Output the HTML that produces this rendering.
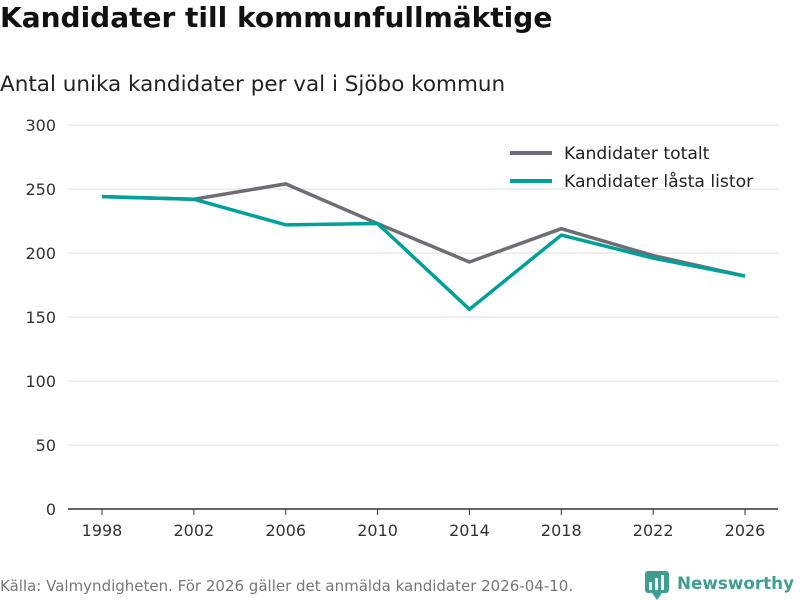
<!DOCTYPE html>
<html><head><meta charset="utf-8">
<style>
body{margin:0;width:800px;height:600px;background:#fff;font-family:"DejaVu Sans","Liberation Sans",sans-serif;overflow:hidden}
#title{position:absolute;left:0;top:1px;font-size:28px;font-weight:bold;color:#111}
#subtitle{position:absolute;left:0;top:72px;font-size:21.5px;color:#222}
#source{position:absolute;left:0;top:577px;font-size:15px;color:#777}
svg{position:absolute;left:0;top:0}
</style></head><body>
<div id="title">Kandidater till kommunfullmäktige</div>
<div id="subtitle">Antal unika kandidater per val i Sjöbo kommun</div>
<div id="source">Källa: Valmyndigheten. För 2026 gäller det anmälda kandidater 2026-04-10.</div>
<svg id="chart" width="800" height="600"></svg>
<script>
const years=[1998,2002,2006,2010,2014,2018,2022,2026];
const totalt=[244,242,254,223,193,219,198,182];
const lasta=[244,242,222,223,156,214,196,182];
const yTicks=[0,50,100,150,200,250,300];
const seriesNames=["Kandidater totalt","Kandidater låsta listor"];
const colors=["#6e6d73","#00a19a"];
const svg=document.getElementById('chart');
const NS='http://www.w3.org/2000/svg';
const x=v=>102+(v-1998)/28*643;
const y=v=>509-v*1.28;
function mk(t,a,p){const e=document.createElementNS(NS,t);for(const k in a)e.setAttribute(k,a[k]);(p||svg).appendChild(e);return e;}
yTicks.forEach(t=>{
 const l=mk('line',{x1:68,x2:778,y1:y(t),y2:y(t),stroke:t===0?'#333':'#ddd','stroke-width':t===0?1.5:1});
 
 
 const tx=mk('text',{x:56,y:y(t)+6,'text-anchor':'end','font-size':16,fill:'#333','font-family':'DejaVu Sans, sans-serif'});
 tx.textContent=t;
 
 
});
years.forEach(yr=>{
 const l=mk('line',{x1:x(yr),x2:x(yr),y1:509,y2:515,stroke:'#333'});
 
 
 const tx=mk('text',{x:x(yr),y:536,'text-anchor':'middle','font-size':16,fill:'#333','font-family':'DejaVu Sans, sans-serif'});
 tx.textContent=yr;
 
 
});
[totalt,lasta].forEach((s,i)=>{
 const p=mk('polyline',{points:s.map((v,j)=>x(years[j])+','+y(v)).join(' '),fill:'none',stroke:colors[i],'stroke-width':3.5,'stroke-linejoin':'round'});
 
 
 const ly=153+i*28;
 const l=mk('line',{x1:510,x2:552,y1:ly,y2:ly,stroke:colors[i],'stroke-width':4});
 
 
 const t=mk('text',{x:564,y:ly+6,'font-size':17.2,fill:'#222','font-family':'DejaVu Sans, sans-serif'});
 t.textContent=seriesNames[i];
 
 
});
const g=mk('g',{});


mk('rect',{x:645,y:571,width:24,height:22,rx:3,fill:'#3f9e8f'},g);
mk('polygon',{points:'652,593 662,593 657,600',fill:'#3f9e8f'},g);
mk('rect',{x:649,y:582,width:3,height:8,fill:'#fff'},g);
mk('rect',{x:655,y:578,width:3,height:12,fill:'#fff'},g);
mk('rect',{x:661,y:575,width:3,height:15,fill:'#fff'},g);
const lt=mk('text',{x:677,y:589,'font-size':17,'font-weight':'bold',fill:'#3f9e8f','font-family':'DejaVu Sans, sans-serif',textLength:117,lengthAdjust:'spacingAndGlyphs'},g);
lt.textContent='Newsworthy';
</script>
</body></html>
